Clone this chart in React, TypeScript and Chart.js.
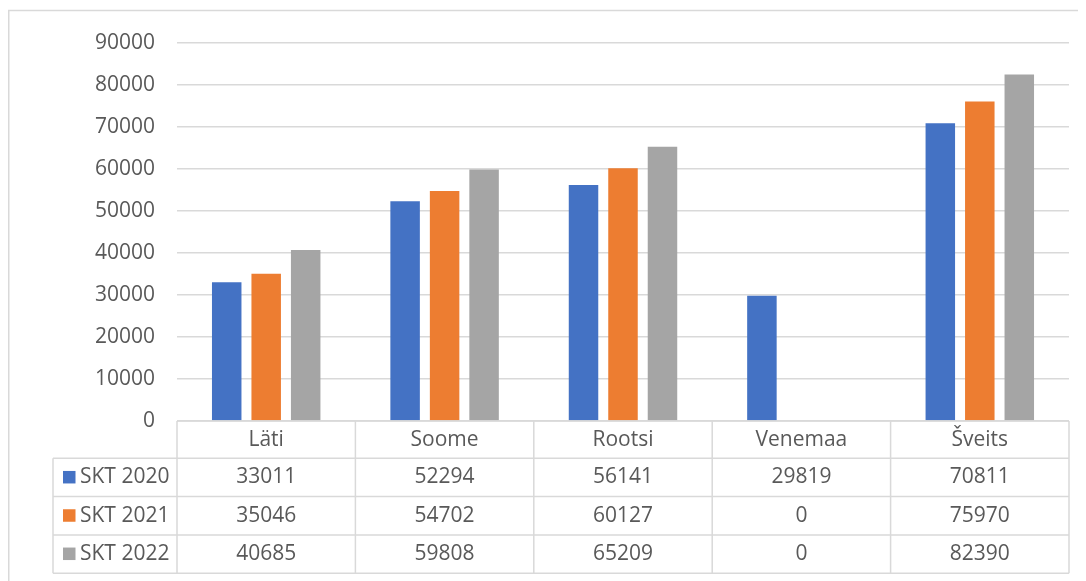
import React, { useEffect, useRef } from "react";
import { Chart, registerables } from "chart.js";

Chart.register(...registerables);

const categories = ["Läti", "Soome", "Rootsi", "Venemaa", "Šveits"];
const seriesNames = ["SKT 2020", "SKT 2021", "SKT 2022"];
const skt2020 = [33011, 52294, 56141, 29819, 70811];
const skt2021 = [35046, 54702, 60127, 0, 75970];
const skt2022 = [40685, 59808, 65209, 0, 82390];
const colors = ["#4472C4", "#ED7D31", "#A5A5A5"];
const yTicks = [0, 10000, 20000, 30000, 40000, 50000, 60000, 70000, 80000, 90000];

const FONT = "'Open Sans', 'Noto Sans', sans-serif";
const TEXT = "#595959";
const LINE = "#D9D9D9";

const tablePlugin = {
  id: "dataTable",
  afterDraw(chart: any) {
    const ctx = chart.ctx;
    const area = chart.chartArea;
    const xs = chart.scales.x;
    const n = categories.length;
    const cw = (area.right - area.left) / n;
    const top = area.bottom;
    const headerH = 37.3;
    const rowH = 38.3;
    const legendLeft = 45;
    const rowsY = [top, top + headerH];
    for (let i = 1; i <= seriesNames.length; i++) rowsY.push(top + headerH + rowH * i);
    const bottom = rowsY[rowsY.length - 1];

    ctx.save();
    // outer frame (top and left)
    ctx.strokeStyle = LINE;
    ctx.lineWidth = 1.5;
    ctx.beginPath();
    ctx.moveTo(0.75, chart.height);
    ctx.lineTo(0.75, 2.5);
    ctx.lineTo(chart.width, 2.5);
    ctx.stroke();

    ctx.lineWidth = 1.5;
    ctx.strokeStyle = LINE;
    ctx.beginPath();
    ctx.moveTo(area.left, rowsY[0]);
    ctx.lineTo(area.right, rowsY[0]);
    for (let r = 1; r < rowsY.length; r++) {
      ctx.moveTo(legendLeft, rowsY[r]);
      ctx.lineTo(area.right, rowsY[r]);
    }
    for (let i = 0; i <= n; i++) {
      const x = area.left + cw * i;
      ctx.moveTo(x, rowsY[0]);
      ctx.lineTo(x, bottom);
    }
    ctx.moveTo(legendLeft, rowsY[1]);
    ctx.lineTo(legendLeft, bottom);
    ctx.stroke();

    ctx.fillStyle = TEXT;
    ctx.font = `21px ${FONT}`;
    ctx.textBaseline = "middle";
    ctx.textAlign = "center";
    for (let i = 0; i < n; i++) {
      const cx = xs.getPixelForValue(i);
      ctx.fillText(categories[i], cx, (rowsY[0] + rowsY[1]) / 2);
    }
    const all = [skt2020, skt2021, skt2022];
    for (let s = 0; s < all.length; s++) {
      const cy = (rowsY[s + 1] + rowsY[s + 2]) / 2;
      for (let i = 0; i < n; i++) {
        const cx = xs.getPixelForValue(i);
        ctx.textAlign = "center";
        ctx.fillStyle = TEXT;
        ctx.fillText(String(all[s][i]), cx, cy);
      }
      ctx.fillStyle = colors[s];
      ctx.fillRect(legendLeft + 10, cy - 6.5, 12.5, 12.5);
      ctx.fillStyle = TEXT;
      ctx.textAlign = "left";
      ctx.fillText(seriesNames[s], legendLeft + 27, cy);
    }
    ctx.restore();
  },
};

export default function App() {
  const ref = useRef<HTMLCanvasElement | null>(null);
  useEffect(() => {
    if (!ref.current) return;
    const chart = new Chart(ref.current, {
      type: "bar",
      data: {
        labels: categories,
        datasets: [skt2020, skt2021, skt2022].map((d, i) => ({
          label: seriesNames[i],
          data: d,
          backgroundColor: colors[i],
          borderWidth: 0,
          barPercentage: 0.747,
          categoryPercentage: 0.664,
        })),
      },
      options: {
        animation: false,
        responsive: false,
        layout: { padding: { left: 0, top: 30, right: 17, bottom: 152 } },
        plugins: { legend: { display: false }, tooltip: { enabled: false } },
        scales: {
          x: {
            ticks: { display: false },
            grid: { display: false, drawTicks: false },
            border: { display: false },
            afterFit: (s: any) => {
              s.height = 8;
            },
          },
          y: {
            min: 0,
            max: 90000,
            afterBuildTicks: (s: any) => {
              s.ticks = yTicks.map((v) => ({ value: v }));
            },
            ticks: {
              padding: 22,
              color: TEXT,
              font: { family: FONT, size: 21 },
              callback: (v: any) => String(v),
            },
            grid: { color: LINE, lineWidth: 1.5, drawTicks: false },
            border: { display: false },
            afterFit: (s: any) => {
              s.width = 169;
            },
          },
        },
      },
      plugins: [tablePlugin],
    });
    return () => chart.destroy();
  }, []);
  return <canvas ref={ref} width={1078} height={573} style={{ display: "block" }} />;
}
